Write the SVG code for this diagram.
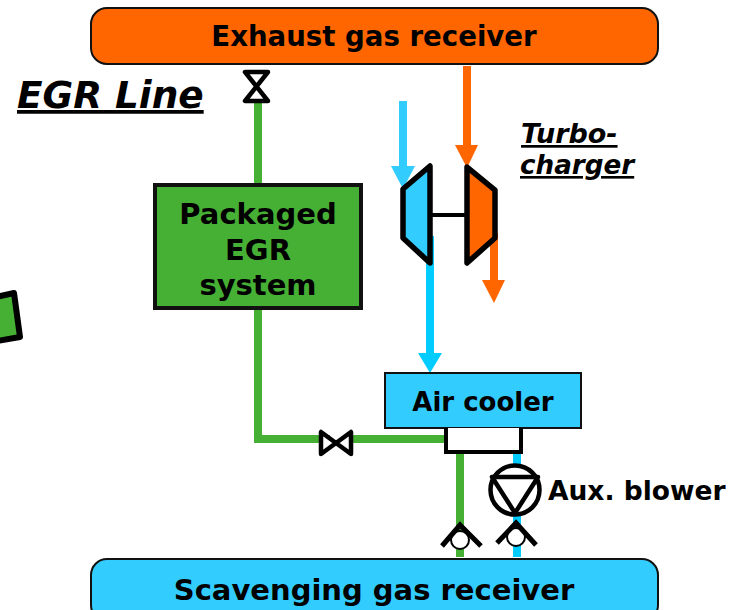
<svg xmlns="http://www.w3.org/2000/svg" width="729" height="610" viewBox="0 0 729 610">
<style>
text{font-family:"DejaVu Sans","Liberation Sans",sans-serif;font-weight:700;fill:#000}
.lbl{text-anchor:middle}
.it{font-style:italic;text-decoration:underline}
.sym{stroke:#000;stroke-width:4.500;stroke-linejoin:round;stroke-linecap:round}
.g{stroke:#46b035;stroke-width:8;fill:none}
.b{stroke:#00ccff;stroke-width:8;fill:none}
.o{stroke:#ff6600;stroke-width:8;fill:none}
</style>
<rect width="729" height="610" fill="#fff"/>
<g id="connectors">
<path class="g" d="M258 102V185M258 308V439H330M348 439H446M460 452V557"/>
<path class="b" d="M403 101V168" style="stroke:#33ccff"/>
<path class="b" d="M430 236V355"/>
<path class="b" d="M517 452V466M517 515V557"/>
<path class="o" d="M467 66V146"/>
<path class="o" d="M494 233V282"/>
<polygon points="391,166 415,166 403,189" fill="#33ccff"/>
<polygon points="455,145 478,145 467,168" fill="#ff6600"/>
<polygon points="482,280 505,280 494,303" fill="#ff6600"/>
<polygon points="418,353 442,353 430,373" fill="#00ccff"/>
</g>
<g id="exhaust-receiver">
<rect x="91" y="8" width="567" height="56" rx="16" fill="#ff6600" stroke="#111" stroke-width="2"/>
<text class="lbl" x="374" y="46" font-size="27.600">Exhaust gas receiver</text>
</g>
<g id="scavenging-receiver">
<rect x="91" y="559" width="567" height="62" rx="16" fill="#33ccff" stroke="#111" stroke-width="2"/>
<text class="lbl" x="374" y="600" font-size="29">Scavenging gas receiver</text>
</g>
<g id="egr-label"><text x="17" y="108" font-size="37.400" class="it">EGR Line</text></g>
<g id="turbo-label">
<text x="521" y="143" font-size="27" class="it">Turbo-</text>
<text x="520" y="174" font-size="26.200" class="it">charger</text>
</g>
<g id="egr-top-valve"><polygon class="sym" points="245,72 268,72 245,101 268,101" fill="#fff"/></g>
<g id="packaged-egr">
<rect x="155" y="185" width="206" height="123" fill="#46b035" stroke="#111" stroke-width="4"/>
<text class="lbl" x="258" y="224" font-size="29">Packaged</text>
<text class="lbl" x="258" y="260" font-size="29">EGR</text>
<text class="lbl" x="258" y="295" font-size="29">system</text>
</g>
<g id="fragment"><polygon points="-8,298 14,293 20,337 -8,342" fill="#46b035" stroke="#000" stroke-width="6" stroke-linejoin="round"/></g>
<g id="compressor"><polygon points="403,189 430,166 430,263 403,238" fill="#33ccff" stroke="#000" stroke-width="5.500" stroke-linejoin="round"/></g>
<g id="turbine"><polygon points="467,167 495,190 495,238 467,263" fill="#ff6600" stroke="#000" stroke-width="5.500" stroke-linejoin="round"/></g>
<g id="shaft"><path d="M430 215H467" stroke="#000" stroke-width="4"/></g>
<g id="air-cooler">
<rect x="385" y="373" width="196" height="55" fill="#33ccff" stroke="#111" stroke-width="2"/>
<text class="lbl" x="483" y="411" font-size="26">Air cooler</text>
<path d="M446 428V452H521V428" fill="#fff" stroke="#000" stroke-width="4"/>
</g>
<g id="egr-bottom-valve"><polygon class="sym" points="321,432 321,454 351,432 351,454" fill="#fff"/></g>
<g id="aux-blower">
<circle cx="515" cy="490" r="24.500" fill="#fff" stroke="#000" stroke-width="4.500"/>
<path d="M492 477H538L515 513Z" fill="none" stroke="#000" stroke-width="4.500" stroke-linejoin="round"/>
<text x="548" y="500" font-size="26.500">Aux. blower</text>
</g>
<g id="check-left">
<circle cx="460" cy="540" r="9" fill="#fff" stroke="#000" stroke-width="2"/>
<path d="M442 546L460 525L481 546" fill="none" stroke="#000" stroke-width="5"/>
</g>
<g id="check-right">
<circle cx="516" cy="537" r="9" fill="#fff" stroke="#000" stroke-width="2"/>
<path d="M497 543L516 523L536 545" fill="none" stroke="#000" stroke-width="5"/>
</g>
</svg>
